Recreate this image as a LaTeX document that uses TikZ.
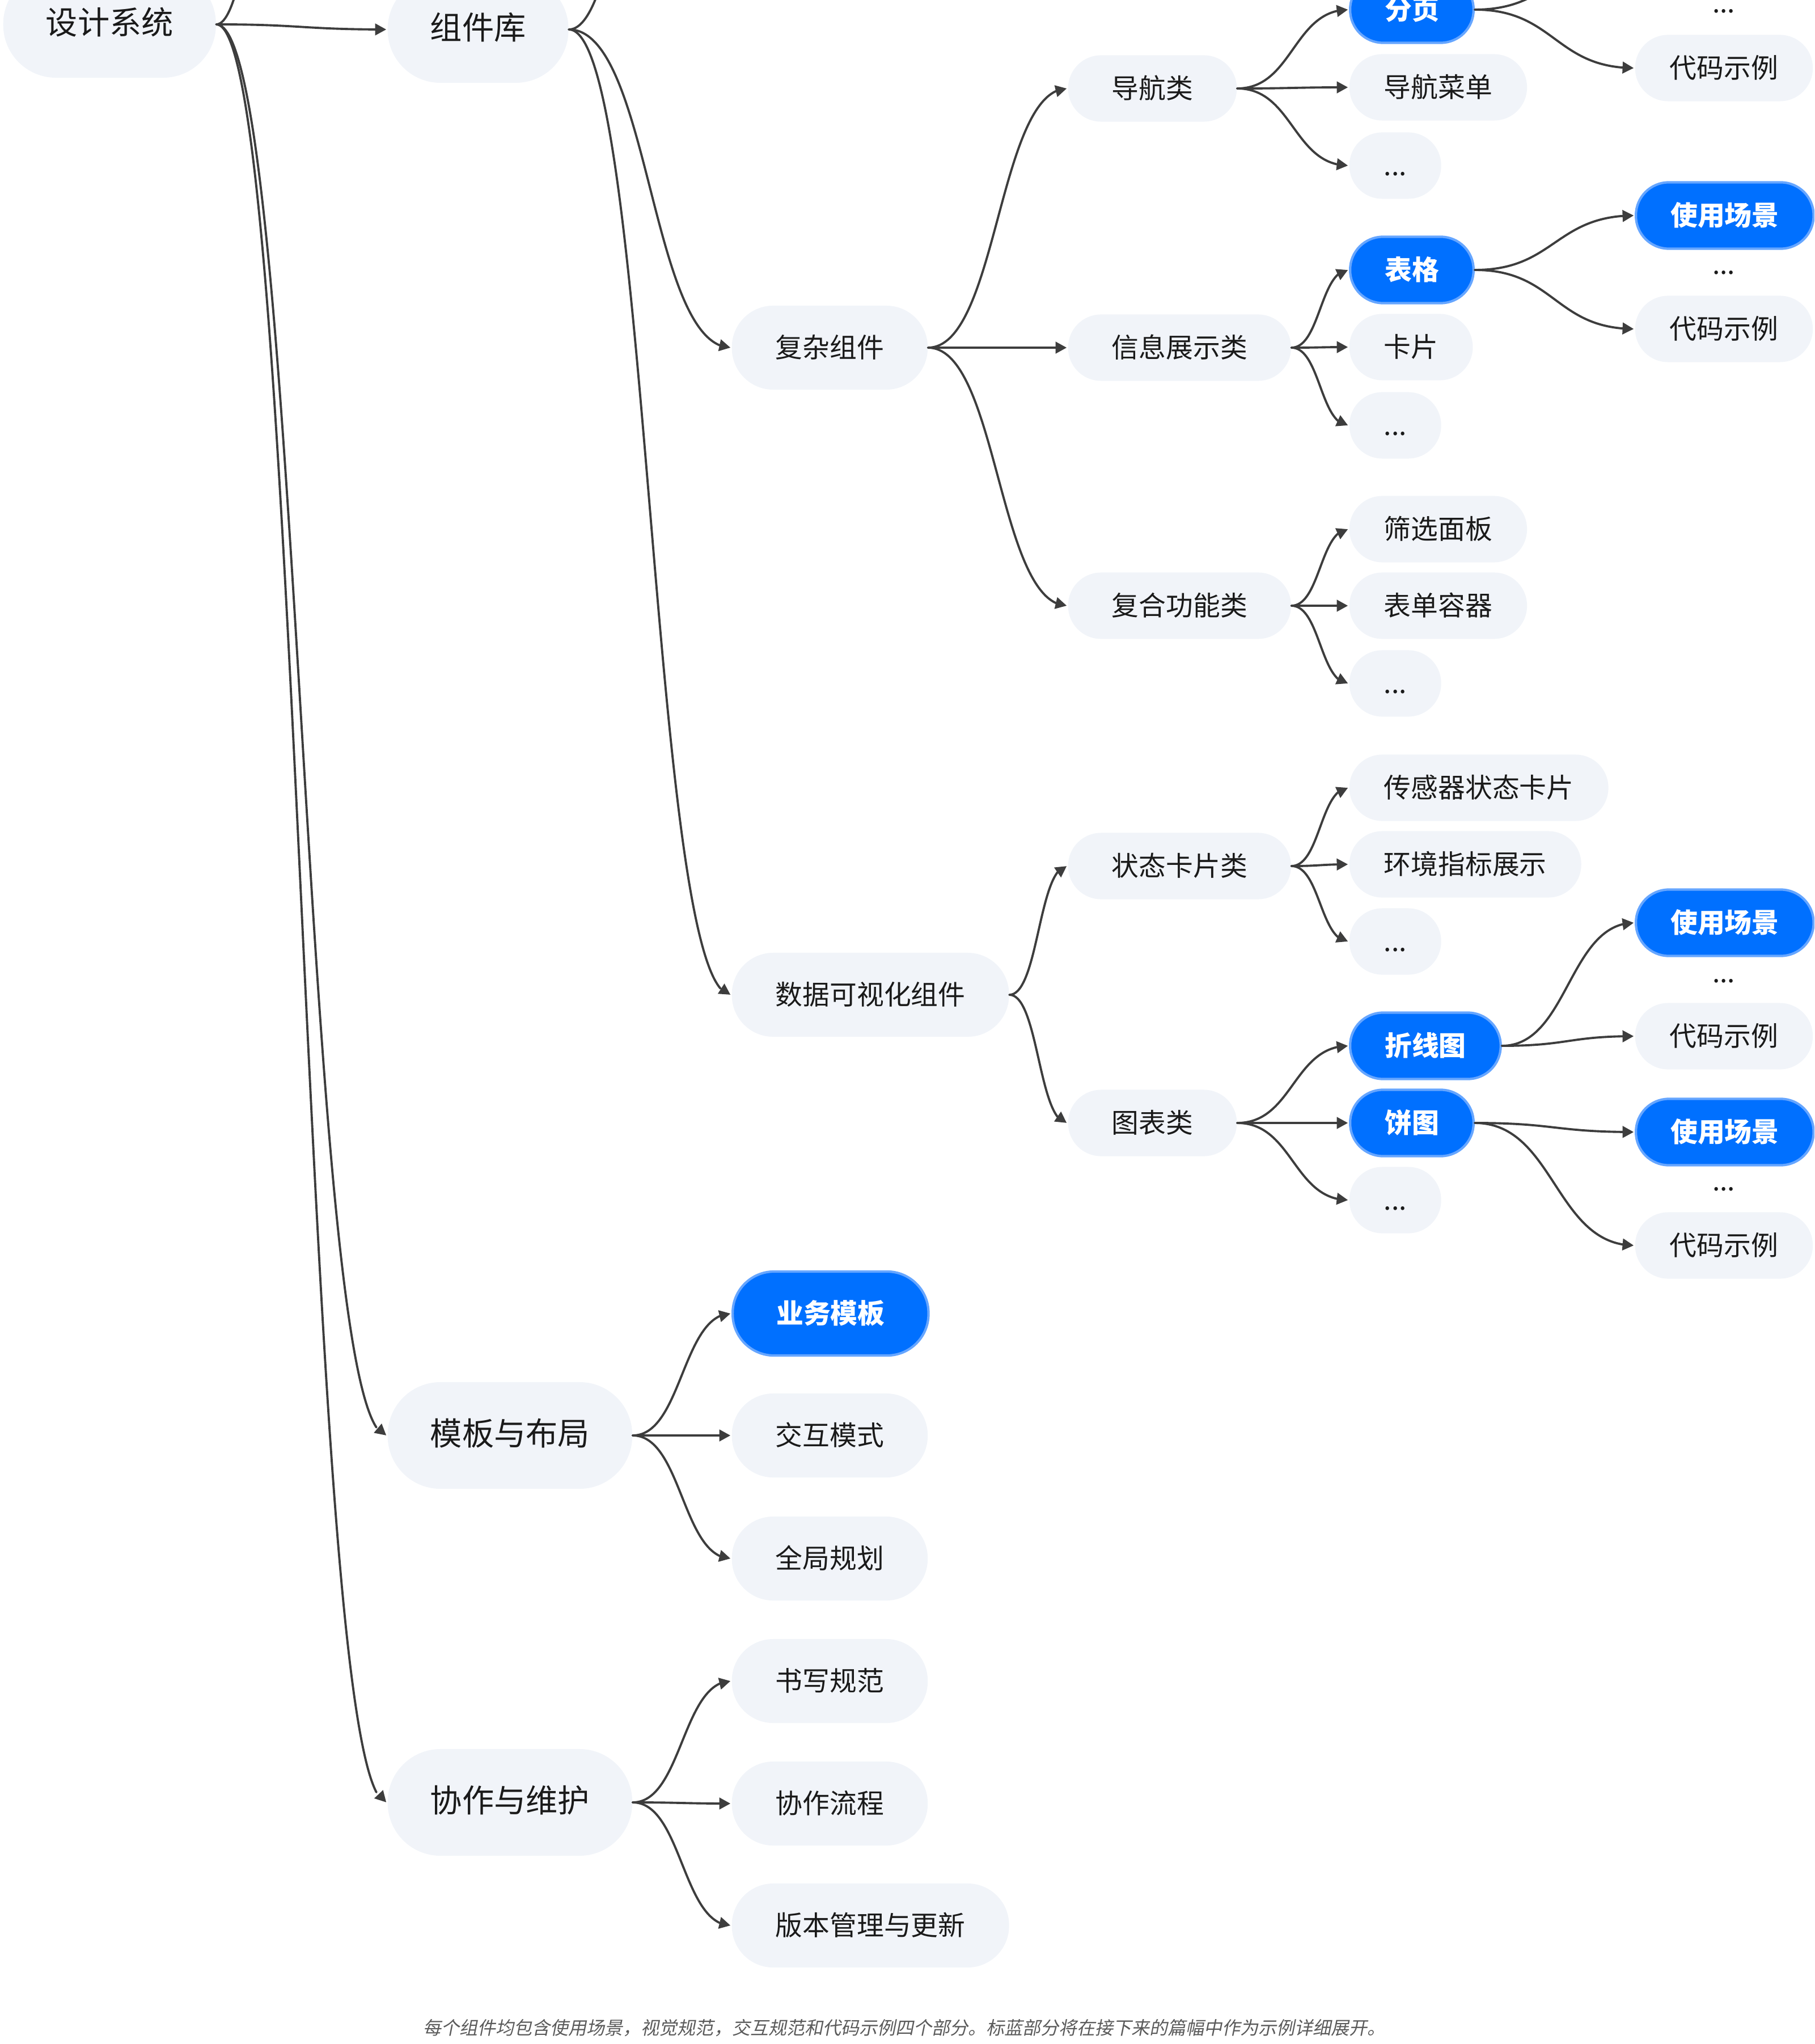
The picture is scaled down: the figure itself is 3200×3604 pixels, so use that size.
\documentclass[tikz,border=0pt]{standalone}
\usepackage{fontspec}
\setmainfont{Noto Sans CJK SC}
\newfontfamily\notefont{Noto Sans CJK SC}[FakeSlant=0.2]
\usetikzlibrary{arrows.meta, bending, calc}

\definecolor{nodefill}{HTML}{F1F4F9}
\definecolor{bluefill}{HTML}{0070FF}
\definecolor{blueedge}{HTML}{66A6FF}
\definecolor{linkgray}{HTML}{3D3D3D}
\definecolor{inkblack}{HTML}{1A1A1A}
\definecolor{notegray}{HTML}{5A5A5A}

\tikzset{
	topic/.style={rectangle, fill=nodefill, text=inkblack, anchor=west,
		inner ysep=0pt, text height=1.1em, text depth=0.12em},
	big/.style={topic, font=\fontsize{16pt}{18pt}\selectfont,
		minimum height=1.88cm, inner xsep=0.75cm, rounded corners=0.93cm},
	mid/.style={topic, font=\fontsize{13.6pt}{16pt}\selectfont,
		minimum height=1.48cm, inner xsep=0.77cm, rounded corners=0.73cm},
	sub/.style={topic, font=\fontsize{13.6pt}{16pt}\selectfont,
		minimum height=1.17cm, inner xsep=0.77cm, rounded corners=0.58cm},
	leaf/.style={sub, inner xsep=0.61cm},
	hot/.style={fill=bluefill, draw=blueedge, line width=1.2pt, text=white,
		font=\fontsize{13.6pt}{16pt}\selectfont\bfseries},
	gap/.style={font=\fontsize{13.6pt}{16pt}\selectfont, text=inkblack,
		text height=0.88em, text depth=0.12em, inner sep=0pt},
	% horizontal S-shaped branch from parent to child
	link/.style={draw=linkgray, line width=1.1pt, shorten >=0.5pt,
		-{Triangle[length=5.6pt, width=5.8pt, flex]},
		to path={let \p1=(\tikztostart), \p2=(\tikztotarget) in
			.. controls ({(\x1+\x2)/2},\y1) and ({(\x1+\x2)/2},\y2) .. (\tikztotarget)}},
}

\begin{document}
\begin{tikzpicture}[x=0.01cm, y=-0.01cm, line cap=round, line join=round]
	\useasboundingbox (0,0) rectangle (3200,3604);
	\clip (0,0) rectangle (3200,3604);
	
	%========================
	% root and first level
	%========================
	\node[big] (root) at (5,43) {设计系统};
	\node[big] (lib) at (683,52) {组件库};
	\node[big] (tpl) at (683,2531) {模板与布局};
	\node[big] (collab) at (683,3178) {协作与维护};
	% branches leaving the visible area
	\coordinate (rootUp) at (683,-2860);
	\coordinate (libUp) at (1292,-1250);
	
	%========================
	% second level
	%========================
	\node[mid] (cplx) at (1290,613) {复杂组件};
	\node[mid] (dviz) at (1290,1754) {数据可视化组件};
	\node[mid,hot] (biz) at (1290,2316) {业务模板};
	\node[mid] (inter) at (1290,2531) {交互模式};
	\node[mid] (glob) at (1290,2748) {全局规划};
	\node[mid] (write) at (1290,2964) {书写规范};
	\node[mid] (flow) at (1290,3180) {协作流程};
	\node[mid] (ver) at (1290,3395) {版本管理与更新};
	
	%========================
	% third level
	%========================
	\node[sub] (nav) at (1883,156) {导航类};
	\node[sub] (info) at (1883,613) {信息展示类};
	\node[sub] (comp) at (1883,1068) {复合功能类};
	\node[sub] (stat) at (1883,1527) {状态卡片类};
	\node[sub] (chart) at (1883,1980) {图表类};
	
	%========================
	% fourth level
	%========================
	\node[leaf,hot] (page) at (2379,17) {分页};
	\node[leaf] (navmenu) at (2379,154) {导航菜单};
	\node[leaf] (navmore) at (2379,292) {...};
	
	\node[leaf,hot] (table) at (2379,476) {表格};
	\node[leaf] (card) at (2379,612) {卡片};
	\node[leaf] (infomore) at (2379,750) {...};
	
	\node[leaf] (filter) at (2379,933) {筛选面板};
	\node[leaf] (form) at (2379,1068) {表单容器};
	\node[leaf] (compmore) at (2379,1205) {...};
	
	\node[leaf] (sensor) at (2379,1389) {传感器状态卡片};
	\node[leaf] (env) at (2379,1524) {环境指标展示};
	\node[leaf] (statmore) at (2379,1660) {...};
	
	\node[leaf,hot] (line) at (2379,1844) {折线图};
	\node[leaf,hot] (pie) at (2379,1980) {饼图};
	\node[leaf] (chartmore) at (2379,2116) {...};
	
	%========================
	% fifth level
	%========================
	\coordinate (pageUp) at (2883,-80);
	\node[gap] (pagedots) at (3040,9) {...};
	\node[leaf] (pagecode) at (2883,120) {代码示例};
	
	\node[leaf,hot] (tablescene) at (2883,380) {使用场景};
	\node[gap] (tabledots) at (3040,470) {...};
	\node[leaf] (tablecode) at (2883,580) {代码示例};
	
	\node[leaf,hot] (linescene) at (2883,1627) {使用场景};
	\node[gap] (linedots) at (3040,1719) {...};
	\node[leaf] (linecode) at (2883,1827) {代码示例};
	
	\node[leaf,hot] (piescene) at (2883,1996) {使用场景};
	\node[gap] (piedots) at (3040,2086) {...};
	\node[leaf] (piecode) at (2883,2196) {代码示例};
	
	%========================
	% branches
	%========================
	\draw[link] (root.east) to (rootUp);
	\foreach \c in {lib,tpl,collab} \draw[link] (root.east) to (\c.west);
	\draw[link] (lib.east) to (libUp);
	\foreach \c in {cplx,dviz} \draw[link] (lib.east) to (\c.west);
	\foreach \c in {biz,inter,glob} \draw[link] (tpl.east) to (\c.west);
	\foreach \c in {write,flow,ver} \draw[link] (collab.east) to (\c.west);
	
	\foreach \c in {nav,info,comp} \draw[link] (cplx.east) to (\c.west);
	\foreach \c in {stat,chart} \draw[link] (dviz.east) to (\c.west);
	
	\foreach \c in {page,navmenu,navmore} \draw[link] (nav.east) to (\c.west);
	\foreach \c in {table,card,infomore} \draw[link] (info.east) to (\c.west);
	\foreach \c in {filter,form,compmore} \draw[link] (comp.east) to (\c.west);
	\foreach \c in {sensor,env,statmore} \draw[link] (stat.east) to (\c.west);
	\foreach \c in {line,pie,chartmore} \draw[link] (chart.east) to (\c.west);
	
	\draw[link] (page.east) to (pageUp);
	\draw[link] (page.east) to (pagecode.west);
	\foreach \c in {tablescene,tablecode} \draw[link] (table.east) to (\c.west);
	\foreach \c in {linescene,linecode} \draw[link] (line.east) to (\c.west);
	\foreach \c in {piescene,piecode} \draw[link] (pie.east) to (\c.west);
	
	% footnote
	\node[font=\notefont\fontsize{9.1pt}{11pt}\selectfont, text=notegray] (note) at (1595,3576)
	{每个组件均包含使用场景，视觉规范，交互规范和代码示例四个部分。标蓝部分将在接下来的篇幅中作为示例详细展开。};
	
\end{tikzpicture}
\end{document}
